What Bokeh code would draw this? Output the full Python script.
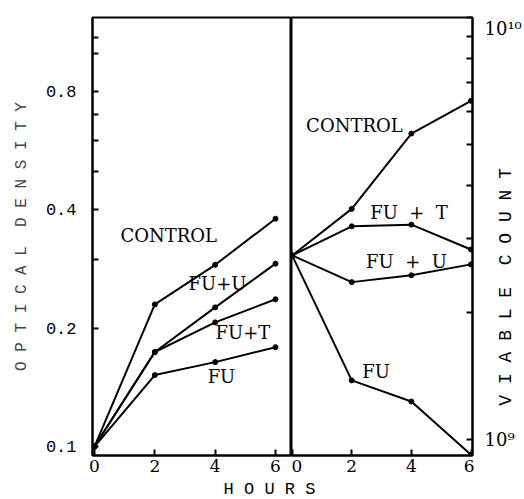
import math
from bokeh.plotting import figure
from bokeh.models import Range1d, FixedTicker, Label
from bokeh.layouts import column, row
from bokeh.embed import file_html
from bokeh.resources import INLINE

# ---- data ----
hours = [0, 2, 4, 6]

# optical density (left panel)
od_control = [0.10, 0.23, 0.29, 0.38]
od_fu_u = [0.10, 0.174, 0.226, 0.292]
od_fu_t = [0.10, 0.174, 0.207, 0.237]
od_fu = [0.10, 0.152, 0.164, 0.179]

# viable count (right panel)
vc_control = [2.73e9, 3.52e9, 5.31e9, 6.35e9]
vc_fu_t = [2.73e9, 3.20e9, 3.23e9, 2.82e9]
vc_fu_u = [2.73e9, 2.36e9, 2.45e9, 2.60e9]
vc_fu = [2.73e9, 1.38e9, 1.23e9, 0.92e9]

hour_ticks = [0, 2, 4, 6]
od_ticks = [0.1, 0.2, 0.4, 0.8]
od_minor = [0.3, 0.5, 0.6, 0.7, 1.0, 1.1]
od_labels = {0.1: "0.1", 0.2: "0.2", 0.4: "0.4", 0.8: "0.8"}
vc_ticks = [1e9, 1e10]
vc_minor = [2e9, 3e9, 4e9, 5e9, 6e9, 7e9, 8e9, 9e9]
vc_labels = {1e9: "10\u2079", 1e10: "10\u00b9\u2070"}

SERIF = "DejaVu Serif"
MONO = "Liberation Mono"
NB = "\u00a0"

FRAME_TOP, AXIS_B, H_ROW = 17, 24, 479
VC_LO, VC_HI = 9.16e8, 1.0005e10


def style_axis(ax):
    ax.axis_line_color = "black"
    ax.axis_line_width = 2
    ax.major_tick_in = 6
    ax.major_tick_out = 0
    ax.minor_tick_in = 6
    ax.minor_tick_out = 0
    ax.major_tick_line_width = 2
    ax.minor_tick_line_width = 2
    ax.major_tick_line_color = "black"
    ax.minor_tick_line_color = "black"
    ax.major_label_text_color = "black"


# ---------------- left panel ----------------
pL = figure(width=291, height=H_ROW, x_range=Range1d(-0.066, 6.53),
            y_range=Range1d(0.0949, 1.235), y_axis_type="log",
            output_backend="svg", toolbar_location=None,
            min_border_left=92, min_border_right=0, min_border_top=FRAME_TOP,
            min_border_bottom=AXIS_B)
pL.grid.visible = False
pL.outline_line_color = "black"
pL.outline_line_width = 2

for ys in (od_control, od_fu_u, od_fu_t, od_fu):
    pL.line(hours, ys, line_color="black", line_width=2)
    pL.scatter(hours, ys, size=5, color="black")

yl = pL.yaxis[0]
style_axis(yl)
yl.ticker = FixedTicker(ticks=od_ticks, minor_ticks=od_minor)
yl.major_label_overrides = od_labels
yl.major_label_text_font = MONO
yl.major_label_text_font_size = "17px"
yl.major_label_standoff = 16
yl.axis_label = "O P T I C A L" + NB + NB + "D E N S I T Y"
yl.axis_label_text_font = MONO
yl.axis_label_text_font_size = "16px"
yl.axis_label_text_font_style = "normal"
yl.axis_label_standoff = 12

xl = pL.xaxis[0]
style_axis(xl)
xl.ticker = FixedTicker(ticks=hour_ticks)
xl.major_label_text_font = SERIF
xl.major_label_text_font_size = "17px"
xl.major_label_standoff = 4

left_notes = [("CONTROL", 0.86, 0.344), ("FU+U", 3.12, 0.260),
              ("FU+T", 4.01, 0.195), ("FU", 3.75, 0.151)]
for t, x, y in left_notes:
    pL.add_layout(Label(x=x, y=y, text=t, text_font=SERIF, text_font_size="18px",
                        text_align="left", text_baseline="middle", text_color="black"))

# ---------------- right panel ----------------
pR = figure(width=183, height=H_ROW, x_range=Range1d(-0.02, 6.05),
            y_range=Range1d(VC_LO, VC_HI), y_axis_type="log",
            y_axis_location="right",
            output_backend="svg", toolbar_location=None,
            min_border_left=0, min_border_right=2, min_border_top=FRAME_TOP,
            min_border_bottom=AXIS_B)
pR.grid.visible = False
pR.outline_line_color = "black"
pR.outline_line_width = 2

for ys in (vc_control, vc_fu_t, vc_fu_u, vc_fu):
    pR.line(hours, ys, line_color="black", line_width=2)
    pR.scatter(hours, ys, size=5, color="black")

yr = pR.yaxis[0]
style_axis(yr)
yr.ticker = FixedTicker(ticks=vc_ticks, minor_ticks=vc_minor)
# the tick labels of this axis are written in the strip to its right
yr.major_label_overrides = {v: "" for v in vc_ticks}
yr.major_label_standoff = 0

xr = pR.xaxis[0]
style_axis(xr)
xr.ticker = FixedTicker(ticks=hour_ticks)
xr.major_label_text_font = SERIF
xr.major_label_text_font_size = "17px"
xr.major_label_standoff = 4

right_notes = [("CONTROL", 0.47, 5.55e9), ("FU" + NB + " +" + NB + " T", 2.62, 3.45e9),
               ("FU" + NB + " +" + NB + " U", 2.48, 2.64e9), ("FU", 2.35, 1.45e9)]
for t, x, y in right_notes:
    pR.add_layout(Label(x=x, y=y, text=t, text_font=SERIF, text_font_size="18px",
                        text_align="left", text_baseline="middle", text_color="black"))

# ---------------- strip for the right axis labels ----------------
# its frame lines up with the right panel's frame, so it uses the same log range
pV = figure(width=48, height=H_ROW, x_range=Range1d(0, 48), y_range=Range1d(VC_LO, VC_HI),
            y_axis_type="log", output_backend="svg", toolbar_location=None,
            x_axis_location=None, y_axis_location=None,
            min_border_left=0, min_border_right=0, min_border_top=FRAME_TOP,
            min_border_bottom=AXIS_B)
pV.grid.visible = False
pV.outline_line_color = None
for v in vc_ticks:
    pV.add_layout(Label(x=10, y=v, text=vc_labels[v], text_font=SERIF,
                        text_font_size="18px", text_align="left",
                        text_baseline="top" if v == max(vc_ticks) else "middle",
                        text_color="black"))
pV.add_layout(Label(x=31, y=2.3e9, text="V I A B L E" + NB + NB + "C O U N T",
                    angle=math.pi / 2, text_font=MONO, text_font_size="18px",
                    text_align="center", text_baseline="middle", text_color="black"))

# ---------------- x axis title strip ----------------
pH = figure(width=522, height=20, x_range=Range1d(0, 522), y_range=Range1d(0, 20),
            output_backend="svg", toolbar_location=None,
            x_axis_location=None, y_axis_location=None, min_border=0)
pH.grid.visible = False
pH.outline_line_color = None
pH.add_layout(Label(x=269, y=10, text="H O U R S", text_font=MONO,
                    text_font_size="17px", text_align="center",
                    text_baseline="middle", text_color="black"))

layout = column(row(pL, pR, pV), pH)

with open("out.html", "w") as f:
    f.write(file_html(layout, INLINE))
